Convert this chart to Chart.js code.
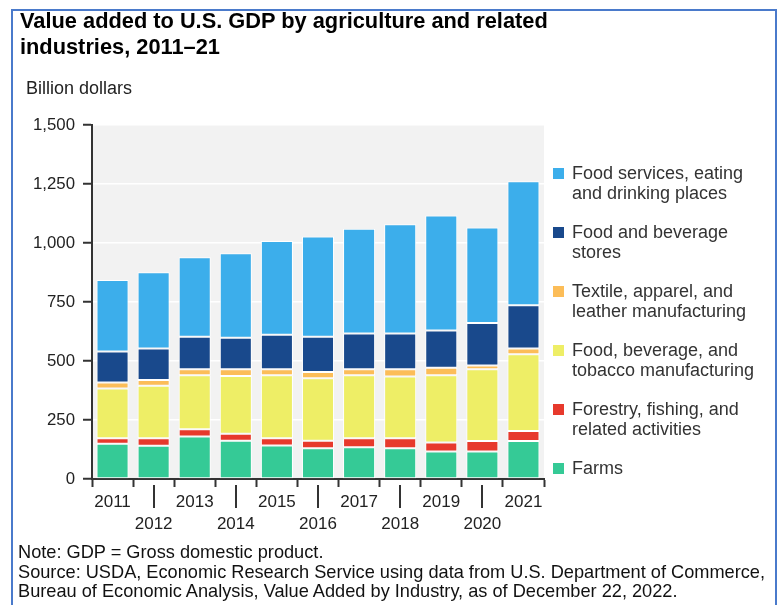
<!DOCTYPE html>
<html lang="en">
  <head>
    <meta charset="UTF-8" />
    <title>Value added to U.S. GDP by agriculture and related industries</title>
    <script src="https://cdn.jsdelivr.net/npm/chart.js"></script>
    <style>
      body {
        margin: 0;
        padding: 0;
        background: #fff;
        font-family: "Liberation Sans", Arial, sans-serif;
        color: #222;
      }

      #page {
        position: relative;
        width: 783px;
        height: 605px;
        overflow: hidden;
      }

      #frame {
        position: absolute;
        left: 11px;
        top: 9px;
        width: 762px;
        height: 640px;
        border: 2px solid #4a7acb;
      }

      #gdpChart {
        position: absolute;
        left: 0;
        top: 0;
      }

      h1 {
        position: absolute;
        left: 20px;
        top: 8px;
        margin: 0;
        font-size: 21.8px;
        line-height: 26px;
        font-weight: bold;
        color: #000;
      }

      #units {
        position: absolute;
        left: 26px;
        top: 78px;
        font-size: 18px;
        line-height: 20px;
      }

      #legend {
        position: absolute;
        left: 553px;
        top: 163px;
      }

      .item {
        position: absolute;
        left: 0;
        width: 220px;
        font-size: 18px;
        line-height: 20px;
        color: #333;
        white-space: nowrap;
      }

      .swatch {
        position: absolute;
        left: 0;
        top: 5px;
        width: 11px;
        height: 11px;
      }

      .item span {
        display: block;
        margin-left: 19px;
      }

      #notes {
        position: absolute;
        left: 18px;
        top: 543px;
        font-size: 18.2px;
        line-height: 19.6px;
        color: #111;
        white-space: nowrap;
      }
    </style>
  </head>
  <body>
    <div id="page">
      <canvas id="gdpChart" width="783" height="605"></canvas>
      <div id="frame"></div>
      <h1>Value added to U.S. GDP by agriculture and related<br />industries, 2011–21</h1>
      <div id="units">Billion dollars</div>
      <div id="legend"></div>
      <div id="notes">
        Note: GDP = Gross domestic product.<br />
        Source: USDA, Economic Research Service using data from U.S. Department of Commerce,<br />
        Bureau of Economic Analysis, Value Added by Industry, as of December 22, 2022.
      </div>
    </div>

    <script>
      // Billion dollars, stacked from the bottom up
      const years = ["2011", "2012", "2013", "2014", "2015", "2016", "2017", "2018", "2019", "2020", "2021"];
      const farms = [149, 141, 180, 162, 142, 130, 135, 130, 117, 117, 161];
      const forestry = [24, 32, 31, 30, 31, 32, 38, 43, 38, 44, 42];
      const foodMfg = [211, 222, 229, 244, 267, 265, 267, 261, 285, 304, 326];
      const textile = [25, 25, 25, 29, 25, 26, 25, 31, 31, 16, 24];
      const stores = [131, 133, 138, 133, 146, 150, 151, 151, 158, 180, 183];
      const foodServices = [303, 323, 337, 359, 397, 425, 444, 463, 488, 405, 526];

      const yTicks = [0, 250, 500, 750, 1000, 1250, 1500];

      const series = [
        { name: ["Farms"], data: farms, color: "#35ca96" },
        { name: ["Forestry, fishing, and", "related activities"], data: forestry, color: "#e7392c" },
        { name: ["Food, beverage, and", "tobacco manufacturing"], data: foodMfg, color: "#eeee66" },
        { name: ["Textile, apparel, and", "leather manufacturing"], data: textile, color: "#fcbd58" },
        { name: ["Food and beverage", "stores"], data: stores, color: "#19498c" },
        { name: ["Food services, eating", "and drinking places"], data: foodServices, color: "#3caeeb" },
      ];

      const axisColor = "#333";

      // light grey panel behind the bars
      const plotBackground = {
        id: "plotBackground",
        beforeDraw(chart) {
          const { ctx, chartArea } = chart;
          ctx.save();
          ctx.fillStyle = "#f2f2f2";
          ctx.fillRect(chartArea.left, chartArea.top, chartArea.right - chartArea.left, chartArea.bottom - chartArea.top);
          ctx.restore();
        },
      };

      // even years sit on the second label row, so their tick runs down to it
      const longTicks = {
        id: "longTicks",
        afterDraw(chart) {
          const { ctx } = chart;
          const x = chart.scales.x;
          ctx.save();
          ctx.strokeStyle = axisColor;
          ctx.lineWidth = 2;
          x.ticks.forEach((t, i) => {
            if (i % 2 === 1) {
              const px = Math.round(x.getPixelForTick(i));
              ctx.beginPath();
              ctx.moveTo(px, x.top + 6);
              ctx.lineTo(px, x.top + 29);
              ctx.stroke();
            }
          });
          ctx.restore();
        },
      };

      const ctx = document.getElementById("gdpChart").getContext("2d");

      new Chart(ctx, {
        type: "bar",
        data: {
          labels: years,
          datasets: series.map((s) => ({
            label: s.name.join(" "),
            data: s.data,
            backgroundColor: s.color,
            borderColor: "#fff",
            borderWidth: 1,
            borderSkipped: false,
            barPercentage: 0.78,
            categoryPercentage: 1,
          })),
        },
        options: {
          responsive: false,
          animation: false,
          devicePixelRatio: 1,
          layout: {
            padding: { left: 0, top: 125, right: 239, bottom: 76 },
          },
          plugins: {
            legend: { display: false },
            tooltip: { enabled: false },
          },
          scales: {
            x: {
              stacked: true,
              offset: true,
              afterFit(scale) {
                scale.height = 50;
              },
              grid: {
                display: true,
                drawOnChartArea: false,
                drawTicks: true,
                tickLength: 8,
                tickWidth: 2,
                tickColor: axisColor,
              },
              border: { display: true, color: axisColor, width: 2 },
              ticks: {
                padding: 4,
                maxRotation: 0,
                autoSkip: false,
                color: "#222",
                font: { family: "Liberation Sans", size: 17, lineHeight: 1.3 },
                callback: (v, i) => (i % 2 === 0 ? years[i] : ["", years[i]]),
              },
            },
            y: {
              stacked: true,
              min: 0,
              max: 1500,
              afterFit(scale) {
                scale.width = 92;
              },
              afterBuildTicks(scale) {
                scale.ticks = yTicks.map((v) => ({ value: v }));
              },
              grid: {
                color: (c) => (c.tick && c.tick.value === 0 ? "rgba(0,0,0,0)" : "#fff"),
                lineWidth: 1.5,
                tickLength: 9,
                tickWidth: 2,
                tickColor: axisColor,
              },
              border: { display: true, color: axisColor, width: 2 },
              ticks: {
                padding: 8,
                color: "#222",
                font: { family: "Liberation Sans", size: 16.8 },
                callback: (v) => v.toLocaleString("en-US"),
              },
            },
          },
        },
        plugins: [plotBackground, longTicks],
      });

      // legend, top entry first
      const legend = document.getElementById("legend");
      series
        .slice()
        .reverse()
        .forEach((s, i) => {
          const item = document.createElement("div");
          item.className = "item";
          item.style.top = i * 59 + "px";
          const sw = document.createElement("div");
          sw.className = "swatch";
          sw.style.background = s.color;
          item.appendChild(sw);
          s.name.forEach((line) => {
            const span = document.createElement("span");
            span.textContent = line;
            item.appendChild(span);
          });
          legend.appendChild(item);
        });
    </script>
  </body>
</html>
